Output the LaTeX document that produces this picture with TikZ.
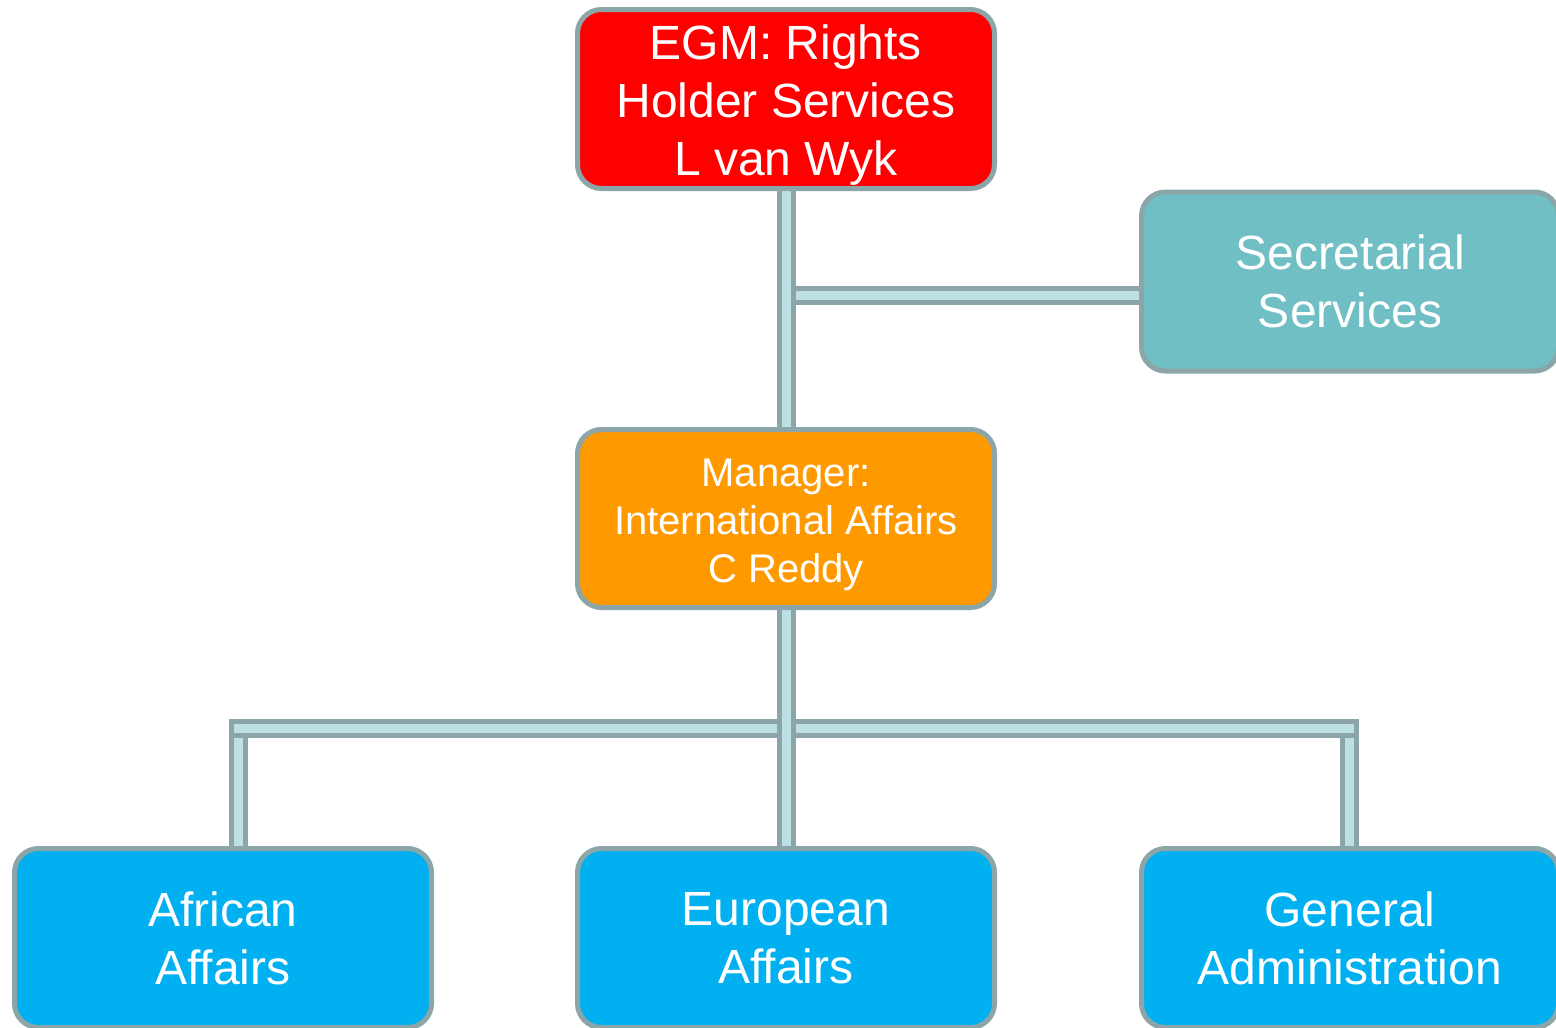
\documentclass[tikz,border=0pt]{standalone}
\usepackage{fontspec}
\setmainfont{Liberation Sans}
\usetikzlibrary{backgrounds}
\definecolor{bordergrey}{HTML}{8BA5A8}
\definecolor{connlight}{HTML}{BDE0E4}
\definecolor{boxred}{HTML}{FF0000}
\definecolor{boxorange}{HTML}{FF9900}
\definecolor{boxteal}{HTML}{70BFC5}
\definecolor{boxblue}{HTML}{00B0F0}
\tikzset{
  orgbox/.style={draw=bordergrey, line width=5pt, rounded corners=24pt,
    minimum width=417pt, minimum height=179pt, text=white, align=center,
    inner sep=0pt, font=\fontsize{48}{58}\selectfont},
  threeline/.style={label={[text=white, align=center, font=#1, yshift=-6pt]center:}},
  conn/.style={draw=bordergrey, line width=5pt, double=connlight, double distance=9pt},
}
\begin{document}
\begin{tikzpicture}[x=1pt,y=-1pt]
\useasboundingbox (0,0) rectangle (1556,1028);
\node[orgbox, fill=boxred,
  label={[text=white, align=center, font=\fontsize{48}{58}\selectfont, yshift=-6pt]center:EGM: Rights\\Holder Services\\L van Wyk}]
  (egm) at (786,99) {};
\node[orgbox, fill=boxteal] (sec) at (1350,281.5) {Secretarial\\Services};
\node[orgbox, fill=boxorange, minimum height=178pt,
  label={[text=white, align=center, font=\fontsize{40}{48}\selectfont, yshift=-6pt]center:Manager:\\International Affairs\\C Reddy}]
  (mgr) at (786,518.5) {};
\node[orgbox, fill=boxblue] (afr) at (223,938) {African\\Affairs};
\node[orgbox, fill=boxblue] (eur) at (786,938) {European\\Affairs};
\node[orgbox, fill=boxblue] (gen) at (1350,938) {General\\Administration};
\coordinate (j1) at (786,295);
\coordinate (busL) at (238,728);
\coordinate (busR) at (1349,728);
\begin{pgfonlayer}{background}
\draw[conn] (j1) -- (j1 -| sec.west);
\draw[conn] (egm.south) -- (mgr.north);
\draw[conn] (busL) -- (busL |- afr.north);
\draw[conn] (busR) -- (busR |- gen.north);
\draw[conn, line cap=rect] (busL) -- (busR);
\draw[conn] (mgr.south) -- (eur.north);
\end{pgfonlayer}
\end{tikzpicture}
\end{document}
